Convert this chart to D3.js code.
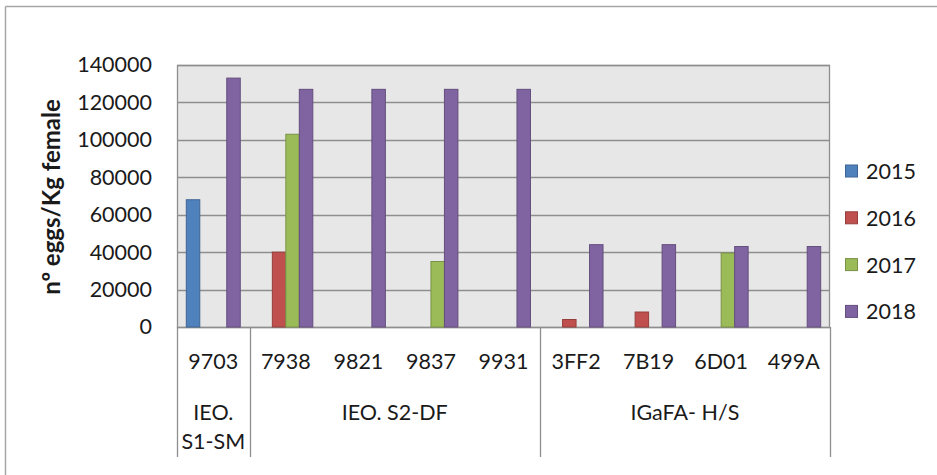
<!DOCTYPE html>
<html>
<head>
<meta charset="utf-8">
<script src="https://cdn.jsdelivr.net/npm/d3@7/dist/d3.min.js"></script>
<style>
  html, body { margin: 0; padding: 0; background: #fff; }
  svg { display: block; font-family: Lato, "Open Sans", sans-serif; }
</style>
</head>
<body>
<svg id="chart" width="937" height="475"></svg>
<script>
// Egg production per kg of female, by broodstock tank and year
const categories = ["9703", "7938", "9821", "9837", "9931", "3FF2", "7B19", "6D01", "499A"];
const groups = [
  { label: ["IEO.", "S1-SM"], from: 0, to: 1 },
  { label: ["IEO. S2-DF"], from: 1, to: 5 },
  { label: ["IGaFA- H/S"], from: 5, to: 9 }
];
const years = ["2015", "2016", "2017", "2018"];
const values2015 = [68000, 0, 0, 0, 0, 0, 0, 0, 0];
const values2016 = [0, 40000, 0, 0, 0, 4000, 8000, 0, 0];
const values2017 = [0, 103000, 0, 35000, 0, 0, 0, 39500, 0];
const values2018 = [133000, 127000, 127000, 127000, 127000, 44000, 44000, 43000, 43000];
const yTicks = [0, 20000, 40000, 60000, 80000, 100000, 120000, 140000];
const colors = ["#4f81bd", "#c0504d", "#9bbb59", "#8064a2"];

const seriesValues = [values2015, values2016, values2017, values2018];

const svg = d3.select("#chart");
const plot = { left: 177, right: 830, top: 65, bottom: 327 };
const textColor = "#1a1a1a";

// outer chart frame (only its top and left edges fall inside the view)
svg.append("line").attr("x1", 5.5).attr("x2", 937).attr("y1", 6.5).attr("y2", 6.5)
  .attr("stroke", "#a6a6a6").attr("stroke-width", 1.5);
svg.append("line").attr("x1", 5.5).attr("x2", 5.5).attr("y1", 6.5).attr("y2", 475)
  .attr("stroke", "#a6a6a6").attr("stroke-width", 1.5);

const x = d3.scaleBand().domain(categories).range([plot.left, plot.right]).paddingInner(0).paddingOuter(0);
const xs = d3.scaleBand().domain(years).range([0, x.bandwidth()]).paddingInner(0).paddingOuter(0.69);
const y = d3.scaleLinear().domain([0, 140000]).range([plot.bottom, plot.top]);

// plot background
svg.append("rect")
  .attr("x", plot.left).attr("y", plot.top)
  .attr("width", plot.right - plot.left).attr("height", plot.bottom - plot.top)
  .attr("fill", "#e7e7e7");

// horizontal gridlines
svg.append("g").selectAll("line").data(yTicks).join("line")
  .attr("x1", plot.left).attr("x2", plot.right)
  .attr("y1", d => Math.round(y(d)) + 0.5).attr("y2", d => Math.round(y(d)) + 0.5)
  .attr("stroke", "#8e8e8e").attr("stroke-width", 1.3);

// plot border
svg.append("rect")
  .attr("x", plot.left + 0.5).attr("y", plot.top + 0.5)
  .attr("width", plot.right - plot.left - 1).attr("height", plot.bottom - plot.top)
  .attr("fill", "none").attr("stroke", "#8e8e8e").attr("stroke-width", 1.3);

// bars
const rows = [];
categories.forEach((c, i) => {
  years.forEach((yr, j) => {
    const v = seriesValues[j][i];
    if (v > 0) rows.push({ c, yr, v, color: colors[j] });
  });
});
svg.append("g").selectAll("rect").data(rows).join("rect")
  .attr("x", d => x(d.c) + xs(d.yr))
  .attr("y", d => y(d.v))
  .attr("width", xs.bandwidth())
  .attr("height", d => y(0) - y(d.v))
  .attr("fill", d => d.color)
  .attr("stroke", d => d3.color(d.color).darker(0.7))
  .attr("stroke-width", 1);

// y axis labels
const yAxis = d3.axisLeft(y).tickValues(yTicks).tickSize(0).tickPadding(0).tickFormat(d3.format("d"));
const yg = svg.append("g").attr("transform", `translate(${152},0)`).call(yAxis);
yg.select(".domain").remove();
yg.selectAll("text").attr("font-size", "21.5px").attr("fill", textColor)
  .attr("font-family", "Lato, sans-serif");

// y axis title
svg.append("text")
  .attr("transform", "translate(50,197) rotate(-90)")
  .attr("text-anchor", "middle").attr("dominant-baseline", "central")
  .attr("font-size", "24px").attr("font-weight", "bold").attr("fill", textColor)
  .text("nº eggs/Kg female");

// category axis: tick labels
const xAxis = d3.axisBottom(x).tickSize(0).tickPadding(0);
const xg = svg.append("g").attr("transform", `translate(0,${plot.bottom})`).call(xAxis);
xg.select(".domain").remove();
xg.selectAll("text").attr("font-size", "21.5px").attr("fill", textColor)
  .attr("font-family", "Lato, sans-serif")
  .attr("dy", null).attr("y", 34).attr("dominant-baseline", "central");

// group separators on the category axis
const sepBottom = 457;
const sepX = [0, 1, 5, 9].map(i => i < categories.length ? x(categories[i]) : plot.right);
svg.append("g").selectAll("line").data(sepX).join("line")
  .attr("x1", d => Math.round(d) + 0.5).attr("x2", d => Math.round(d) + 0.5)
  .attr("y1", plot.bottom).attr("y2", sepBottom)
  .attr("stroke", "#8e8e8e").attr("stroke-width", 1.3);

// group labels
groups.forEach(g => {
  const x0 = x(categories[g.from]);
  const x1 = g.to < categories.length ? x(categories[g.to]) : plot.right;
  const cx = (x0 + x1) / 2;
  const t = svg.append("text")
    .attr("text-anchor", "middle").attr("font-size", "21.5px").attr("fill", textColor);
  g.label.forEach((line, k) => {
    t.append("tspan").attr("x", cx).attr("y", 420 + k * 28.5).text(line);
  });
});

// legend
const legend = svg.append("g");
years.forEach((yr, j) => {
  const cy = 171 + j * 46.8;
  legend.append("rect")
    .attr("x", 845.5).attr("y", cy - 6).attr("width", 12).attr("height", 12)
    .attr("fill", colors[j]).attr("stroke", d3.color(colors[j]).darker(0.7)).attr("stroke-width", 1);
  legend.append("text")
    .attr("x", 866).attr("y", cy).attr("dominant-baseline", "central")
    .attr("font-size", "21.5px").attr("fill", textColor).text(yr);
});
</script>
</body>
</html>
